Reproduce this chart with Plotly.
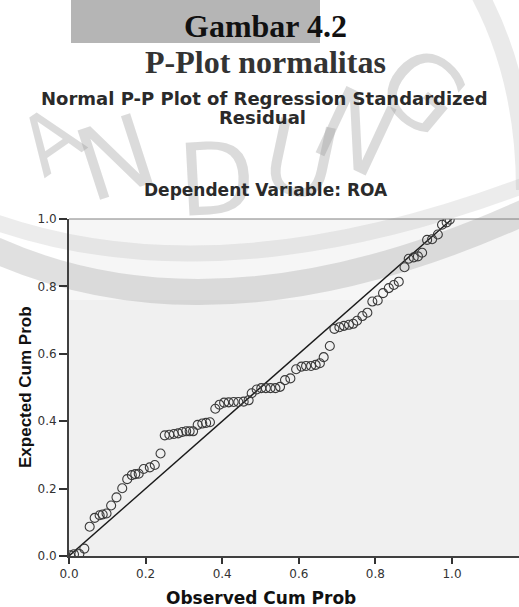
import plotly.graph_objects as go

# ---------------- data ----------------
obs_cum_prob = [0.003, 0.013, 0.027, 0.040, 0.054, 0.067, 0.080, 0.088, 0.098, 0.110,
                0.124, 0.139, 0.152, 0.164, 0.173, 0.182, 0.195, 0.211, 0.224, 0.239,
                0.250, 0.262, 0.274, 0.285, 0.296, 0.306, 0.315, 0.324, 0.336, 0.348,
                0.358, 0.368, 0.382, 0.393, 0.405, 0.417, 0.430, 0.442, 0.456, 0.469,
                0.477, 0.490, 0.502, 0.514, 0.526, 0.539, 0.551, 0.564, 0.578, 0.593,
                0.607, 0.619, 0.632, 0.644, 0.655, 0.665, 0.681, 0.693, 0.706, 0.718,
                0.731, 0.742, 0.752, 0.766, 0.779, 0.792, 0.806, 0.820, 0.835, 0.848,
                0.861, 0.876, 0.887, 0.900, 0.911, 0.922, 0.935, 0.948, 0.963, 0.974,
                0.986, 0.994]
exp_cum_prob = [0.002, 0.005, 0.006, 0.022, 0.087, 0.113, 0.121, 0.123, 0.126, 0.150,
                0.174, 0.201, 0.228, 0.240, 0.243, 0.244, 0.258, 0.263, 0.270, 0.304,
                0.358, 0.360, 0.362, 0.364, 0.368, 0.370, 0.370, 0.370, 0.389, 0.393,
                0.395, 0.397, 0.437, 0.449, 0.455, 0.456, 0.457, 0.457, 0.458, 0.462,
                0.483, 0.494, 0.498, 0.498, 0.498, 0.498, 0.502, 0.522, 0.527, 0.554,
                0.562, 0.564, 0.564, 0.567, 0.572, 0.590, 0.623, 0.674, 0.679, 0.683,
                0.686, 0.689, 0.698, 0.712, 0.722, 0.755, 0.758, 0.780, 0.795, 0.804,
                0.814, 0.857, 0.882, 0.886, 0.889, 0.900, 0.938, 0.940, 0.954, 0.983,
                0.990, 0.998]
ref_line_x = [0.0, 1.0]
ref_line_y = [0.0, 1.0]
tick_vals = [0.0, 0.2, 0.4, 0.6, 0.8, 1.0]
tick_text = ["0.0", "0.2", "0.4", "0.6", "0.8", "1.0"]

doc_title_1 = "Gambar 4.2"
doc_title_2 = "P-Plot normalitas"
chart_title_1 = "Normal P-P Plot of Regression Standardized"
chart_title_2 = "Residual"
chart_subtitle = "Dependent Variable: ROA"
x_title = "Observed Cum Prob"
y_title = "Expected Cum Prob"
watermark_letters = ["A", "N", "D", "U", "N", "G"]

# ---------------- layout geometry ----------------
W, H = 519, 607
L, R, T, B = 69, 0, 219, 51
PW, PH = W - L - R, H - T - B


def px(x, y):
    return ((x - L) / PW, (H - B - y) / PH)


fig = go.Figure()

fig.add_trace(go.Scatter(
    x=ref_line_x, y=ref_line_y, mode="lines",
    line=dict(color="#1a1a1a", width=1.4), hoverinfo="skip", showlegend=False))

fig.add_trace(go.Scatter(
    x=obs_cum_prob, y=exp_cum_prob, mode="markers",
    marker=dict(symbol="circle-open", size=9, color="#3a3a3a", line=dict(width=1.1)),
    showlegend=False))

shapes = []
# light overlay over the top part of the plot area (watermark)
x0, y0 = px(L, 300)
shapes.append(dict(type="rect", xref="paper", yref="paper", x0=0, x1=1, y0=y0, y1=1,
                   fillcolor="#f6f6f6", line=dict(width=0), layer="below"))
# gray rectangle top-left
a = px(71, 0); b = px(320, 43)
shapes.append(dict(type="rect", xref="paper", yref="paper", x0=a[0], x1=b[0], y0=b[1], y1=a[1],
                   fillcolor="#b5b5b5", line=dict(width=0), layer="below"))


def qpath(p0, c, p2):
    a = px(*p0); cc = px(*c); b = px(*p2)
    return f"M {a[0]},{a[1]} Q {cc[0]},{cc[1]} {b[0]},{b[1]}"


# watermark arc bands
shapes.append(dict(type="path", xref="paper", yref="paper",
                   path=qpath((-5, 250), (220, 350), (525, 212)),
                   line=dict(color="rgba(160,160,160,0.32)", width=26), layer="below"))
shapes.append(dict(type="path", xref="paper", yref="paper",
                   path=qpath((-5, 222), (220, 300), (525, 185)),
                   line=dict(color="rgba(170,170,170,0.22)", width=16), layer="below"))
# right outer arc
shapes.append(dict(type="path", xref="paper", yref="paper",
                   path=qpath((480, -5), (525, 80), (525, 190)),
                   line=dict(color="rgba(170,170,170,0.25)", width=18), layer="below"))
# top frame line
shapes.append(dict(type="line", xref="paper", yref="paper", x0=0, x1=1, y0=1, y1=1,
                   line=dict(color="#808080", width=1)))
fig.update_layout(shapes=shapes)

ann = []
# watermark letters
wm_pos = [(50, 140, -35, 80), (115, 158, -18, 100), (216, 180, -3, 100),
          (300, 160, 12, 100), (355, 132, 25, 100), (422, 92, 40, 100)]
for ch, (x, y, rot, sz) in zip(watermark_letters, wm_pos):
    p = px(x, y)
    ann.append(dict(text=ch, x=p[0], y=p[1], xref="paper", yref="paper", showarrow=False,
                    textangle=rot, xanchor="center", yanchor="middle",
                    font=dict(family="DejaVu Sans", size=sz, color="rgba(150,150,150,0.34)")))


def add_text(text, x, y, size, family, color, angle=0):
    p = px(x, y)
    ann.append(dict(text=text, x=p[0], y=p[1], xref="paper", yref="paper", showarrow=False,
                    textangle=angle, xanchor="center", yanchor="middle",
                    font=dict(family=family, size=size, color=color)))


add_text(f"<b>{doc_title_1}</b>", 265, 26, 32, "Liberation Serif", "#111111")
add_text(f"<b>{doc_title_2}</b>", 265, 62, 32, "Liberation Serif", "#333333")
add_text(f"<b>{chart_title_1}</b>", 264, 99, 18, "DejaVu Sans", "#2a2a2a")
add_text(f"<b>{chart_title_2}</b>", 262, 118, 18, "DejaVu Sans", "#2a2a2a")
add_text(f"<b>{chart_subtitle}</b>", 266, 190, 17, "DejaVu Sans", "#2a2a2a")
add_text(f"<b>{x_title}</b>", 261, 598, 17, "DejaVu Sans", "#111111")
add_text(f"<b>{y_title}</b>", 25, 387, 17, "Liberation Sans", "#111111", angle=-90)
fig.update_layout(annotations=ann)

axis_common = dict(showgrid=False, zeroline=False, showline=True, linecolor="#404040",
                   linewidth=2, ticks="outside", tickcolor="#333333", tickwidth=1.5,
                   tickvals=tick_vals, ticktext=tick_text,
                   tickfont=dict(family="DejaVu Sans", size=12, color="#333333"))
fig.update_xaxes(range=[0, PW / 383.0], ticklen=6, **axis_common)
fig.update_yaxes(range=[0, 1.0], ticklen=8, **axis_common)

fig.update_layout(width=W, height=H, autosize=False,
                  margin=dict(l=L, r=R, t=T, b=B, pad=0),
                  paper_bgcolor="white", plot_bgcolor="#f0f0f0", showlegend=False)

fig.write_html("out.html", config={"displayModeBar": False},
               post_script="document.body.style.margin='0px';document.body.style.padding='0px';")
